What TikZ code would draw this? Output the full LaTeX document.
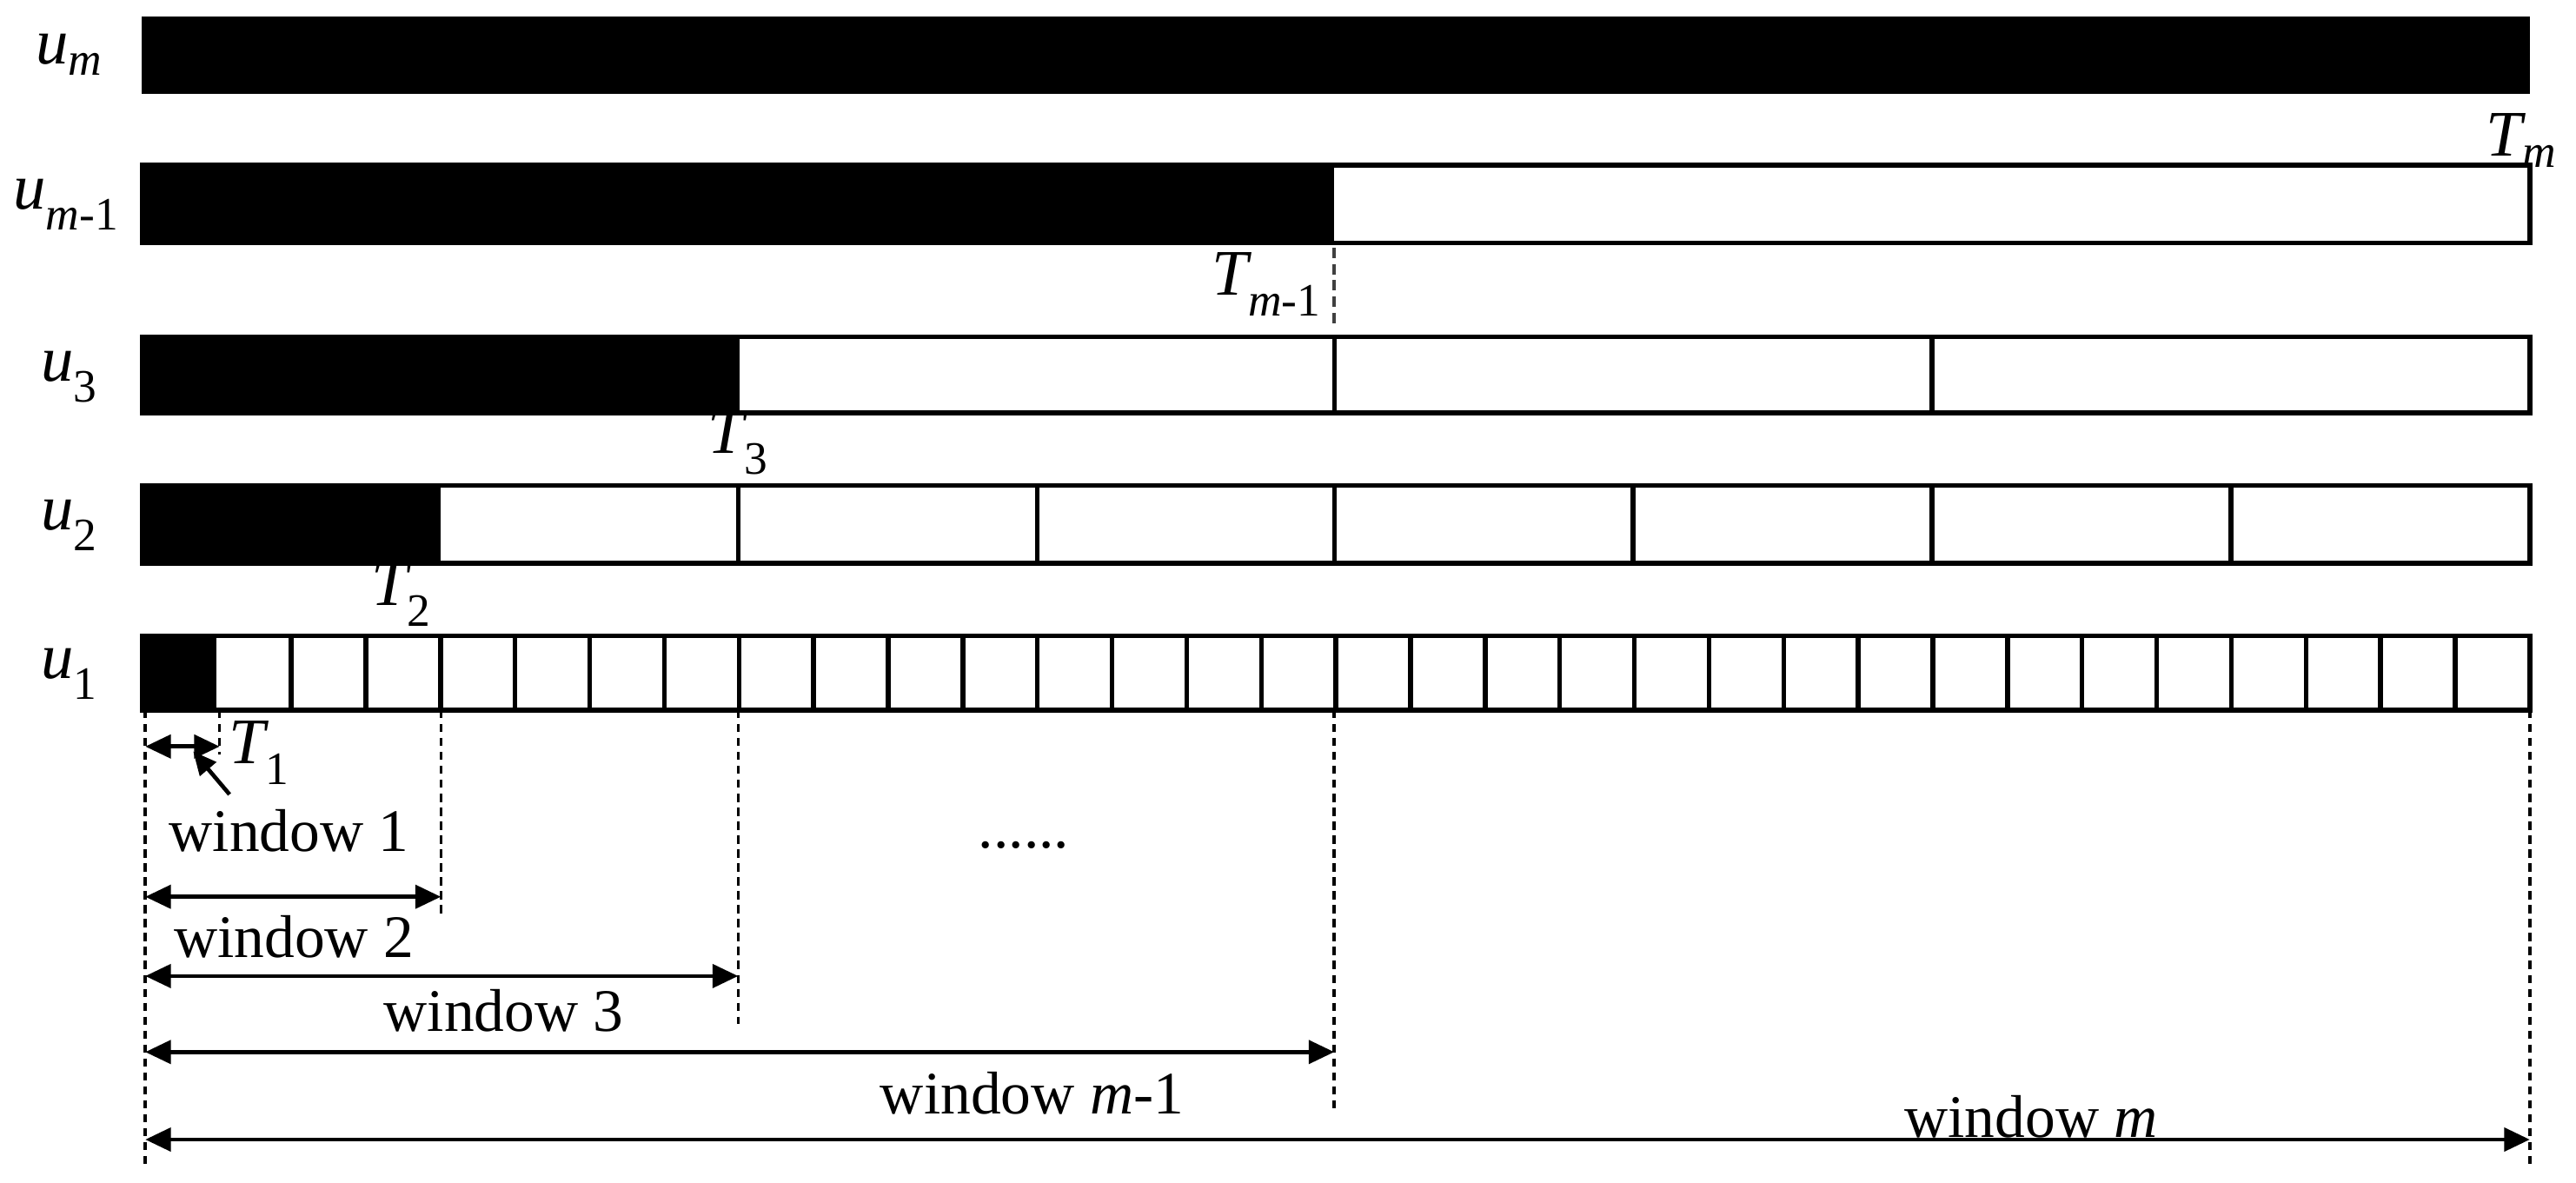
\documentclass[tikz,border=0pt]{standalone}
\usepackage{fontspec}
\setmainfont{Liberation Serif}
\usetikzlibrary{arrows.meta}
\begin{document}
\begin{tikzpicture}[x=0.05cm,y=-0.05cm,
  bar/.style={line width=4pt},
  lab/.style={font=\fontsize{56}{60}\selectfont\itshape},
  txt/.style={font=\fontsize{52}{60}\selectfont},
  dot/.style={line width=2.6pt,dash pattern=on 7pt off 5pt},
  dim/.style={line width=3.5pt,{Triangle[length=22pt,width=20pt]}-{Triangle[length=22pt,width=20pt]}}]
\useasboundingbox (0,0) rectangle (1560,716);
% u_m
\fill (86,10) rectangle (1532,57);
% u_{m-1}
\draw[bar] (86,100) rectangle (1532,147);
\fill (86,100) rectangle (808,147);
% u3
\draw[bar] (86,204) rectangle (1532,250);
\fill (86,204) rectangle (448,250);
\foreach \x in {808,1170} \draw[bar] (\x,204) -- (\x,250);
% u2
\draw[bar] (86,294) rectangle (1532,341);
\fill (86,294) rectangle (267,341);
\foreach \x in {447,628,808,989,1170,1351} \draw[bar] (\x,294) -- (\x,341);
% u1
\draw[bar] (86,385) rectangle (1532,430);
\fill (86,385) rectangle (131.2,430);
\foreach \i in {2,...,31} \draw[bar] ({86+\i*45.1875},385) -- ({86+\i*45.1875},430);
% labels
\node[lab] (lm) at (42,33) {u\textsubscript{\fontsize{40}{40}\selectfont m}};
\node[lab] (lm1) at (40,124) {u\textsubscript{\fontsize{40}{40}\selectfont m\upshape -1}};
\node[lab] (l3) at (42,228) {u\textsubscript{\upshape\fontsize{40}{40}\selectfont 3}};
\node[lab] (l2) at (42,318) {u\textsubscript{\upshape\fontsize{40}{40}\selectfont 2}};
\node[lab] (l1) at (42,408) {u\textsubscript{\upshape\fontsize{40}{40}\selectfont 1}};
\node[lab] (Tm) at (1527,85) {T\textsubscript{\fontsize{40}{40}\selectfont m}};
\node[lab] (Tm1) at (767,172) {T\textsubscript{\fontsize{40}{40}\selectfont m\upshape -1}};
\node[lab] (T3) at (447,268) {T\textsubscript{\upshape\fontsize{40}{40}\selectfont 3}};
\node[lab] (T2) at (243,360) {T\textsubscript{\upshape\fontsize{40}{40}\selectfont 2}};
\node[lab] (T1) at (157,456) {T\textsubscript{\upshape\fontsize{40}{40}\selectfont 1}};
\draw[line width=2.6pt,dash pattern=on 9pt off 5pt,black!75] (808,150) -- (808,196);
% dotted verticals
\draw[dot] (88,430) -- (88,708);
\draw[dot] (133,430) -- (133,457);
\draw[dot] (267,430) -- (267,556);
\draw[dot] (447,430) -- (447,620);
\draw[dot] (808,430) -- (808,672);
\draw[dot] (1532,430) -- (1532,708);
% dimension arrows
\coordinate (a0) at (88,452); \coordinate (a1) at (133,452);
\draw[dim] (a0) -- (a1);
\coordinate (p0) at (139,481); \coordinate (p1) at (117,455);
\draw[line width=3.5pt,-{Triangle[length=20pt,width=18pt]}] (p0) -- (p1);
\node[txt] (w1) at (175,503) {window 1};
\coordinate (b0) at (88,543); \coordinate (b1) at (267,543);
\draw[dim] (b0) -- (b1);
\node[txt] (w2) at (178,567) {window 2};
\coordinate (c0) at (88,591); \coordinate (c1) at (447,591);
\draw[dim] (c0) -- (c1);
\node[txt] (w3) at (305,612) {window 3};
\coordinate (d0) at (88,637); \coordinate (d1) at (808,637);
\draw[dim] (d0) -- (d1);
\node[txt] (wm1) at (625,662) {window \textit{m}-1};
\coordinate (e0) at (88,690); \coordinate (e1) at (1532,690);
\draw[dim] (e0) -- (e1);
\node[txt] (wm) at (1230,676) {window \textit{m}};
\node[txt] (dots) at (620,512) {......};
\end{tikzpicture}
\end{document}
